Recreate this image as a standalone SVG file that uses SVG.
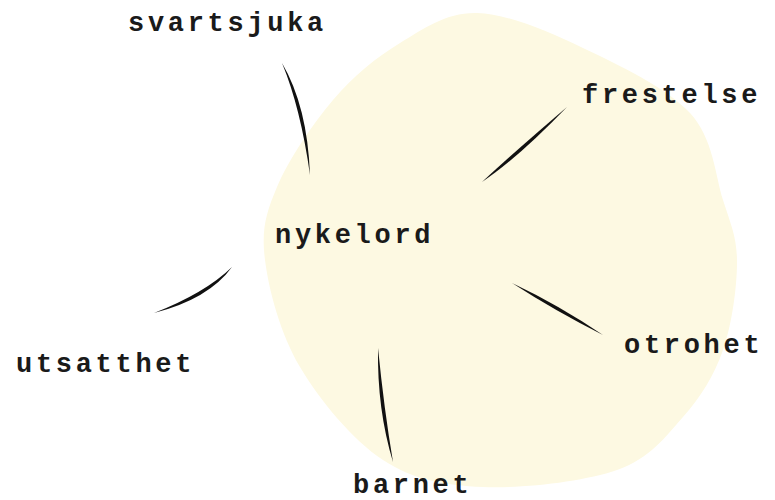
<svg xmlns="http://www.w3.org/2000/svg" width="775" height="500" viewBox="0 0 775 500">
<style>
.lbl{font-family:"Liberation Mono","DejaVu Sans Mono",monospace;font-weight:bold;font-size:27px;letter-spacing:3.7px;fill:#1a1a1a}
.stroke{fill:#111111;stroke:none}
</style>
<rect width="775" height="500" fill="#ffffff"/>
<path id="blob" fill="#fdf9e2" d="M477,13 C507.5,13.8 547.5,31.3 583,48 C618.5,64.7 666.7,87.7 690,113 C713.3,138.3 715.2,175.2 723,200 C730.8,224.8 737,237 737,262 C737,287 732,324.2 723,350 C714,375.8 700.7,397 683,417 C665.3,437 650.3,458.3 617,470 C583.7,481.7 522,488.7 483,487 C444,485.3 413.5,480 383,460 C352.5,440 319.7,400.3 300,367 C280.3,333.7 268.8,290 265,260 C261.2,230 265.7,213.7 277,187 C288.3,160.3 312.5,124 333,100 C353.5,76 376,57.5 400,43 C424,28.5 446.5,12.2 477,13 Z"/>
<g id="connectors">
<path class="stroke" d="M282,63 Q307.4,106.2 310,175 Q300.6,107.9 282,63 Z"/>
<path class="stroke" d="M567,107 Q517.8,158.1 482,182 Q513.2,152.9 567,107 Z"/>
<path class="stroke" d="M232,267 Q208.8,299 154,313 Q205.2,293 232,267 Z"/>
<path class="stroke" d="M378,348 Q384,408.5 393,462 Q377,409.5 378,348 Z"/>
<path class="stroke" d="M512,283 Q558.7,305 603,335 Q555.3,311 512,283 Z"/>
</g>
<g id="node-nykelord"><text class="lbl" x="275" y="243">nykelord</text></g>
<g id="node-svartsjuka"><text class="lbl" x="128" y="31">svartsjuka</text></g>
<g id="node-frestelse"><text class="lbl" x="582" y="103">frestelse</text></g>
<g id="node-utsatthet"><text class="lbl" x="16" y="372">utsatthet</text></g>
<g id="node-barnet"><text class="lbl" x="353" y="493">barnet</text></g>
<g id="node-otrohet"><text class="lbl" x="624" y="353">otrohet</text></g>
</svg>
